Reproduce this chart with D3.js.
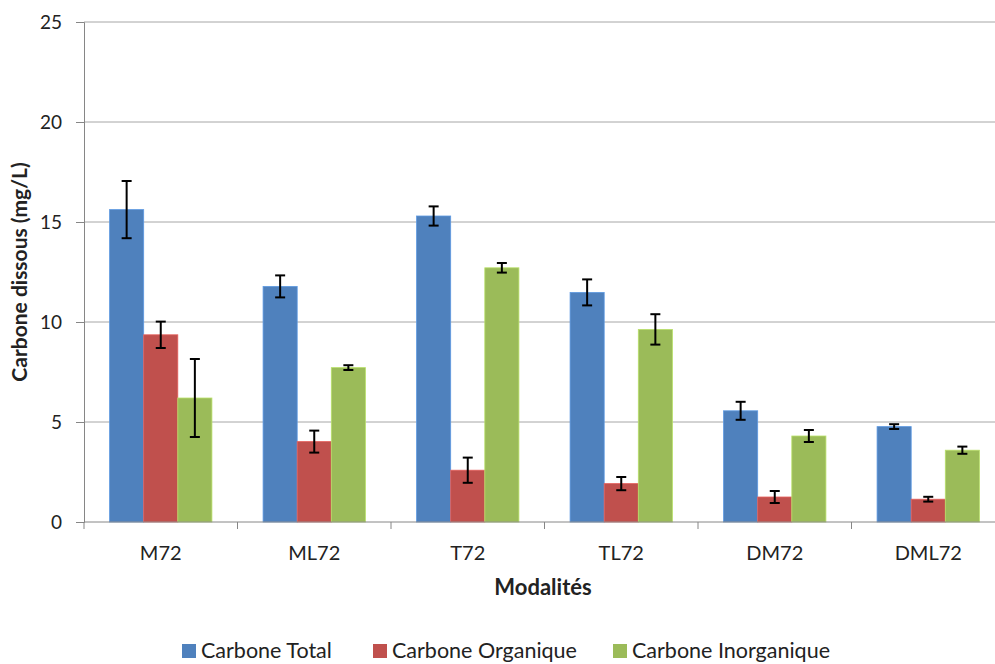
<!DOCTYPE html>
<html>
<head>
<meta charset="utf-8">
<script src="https://cdn.jsdelivr.net/npm/d3@7"></script>
<style>
  body { margin: 0; background: #fff; }
  text { font-family: Lato, "Open Sans", sans-serif; fill: #222; }
</style>
</head>
<body>
<svg id="chart" width="995" height="664"></svg>
<script>
// Categories and series
const categories = ['M72', 'ML72', 'T72', 'TL72', 'DM72', 'DML72'];
const seriesNames = ['Carbone Total', 'Carbone Organique', 'Carbone Inorganique'];
const seriesColors = ['#4F81BD', '#C0504D', '#9BBB59'];

const totalValues = [15.62, 11.78, 15.30, 11.48, 5.56, 4.77];
const totalErrors = [1.43, 0.55, 0.48, 0.65, 0.45, 0.12];
const organicValues = [9.36, 4.02, 2.59, 1.92, 1.25, 1.14];
const organicErrors = [0.66, 0.55, 0.63, 0.33, 0.30, 0.12];
const inorganicValues = [6.20, 7.72, 12.71, 9.63, 4.30, 3.59];
const inorganicErrors = [1.95, 0.12, 0.24, 0.76, 0.30, 0.18];

const yTicks = [0, 5, 10, 15, 20, 25];

const seriesValues = [totalValues, organicValues, inorganicValues];
const seriesErrors = [totalErrors, organicErrors, inorganicErrors];

const svg = d3.select('#chart');
const margin = { left: 84, top: 22, right: -10, bottom: 142 };
const width = 995, height = 664;
const innerW = width - margin.left - margin.right;
const innerH = height - margin.top - margin.bottom;

const g = svg.append('g').attr('transform', `translate(${margin.left},${margin.top})`);

const x0 = d3.scaleBand().domain(categories).range([0, innerW]).paddingInner(0).paddingOuter(0);
const x1 = d3.scaleBand().domain(d3.range(seriesNames.length))
  .range([0, x0.bandwidth()]).paddingOuter(0.75).paddingInner(0);
const y = d3.scaleLinear().domain([0, 25]).range([innerH, 0]);

// Gridlines
g.append('g')
  .selectAll('line')
  .data(yTicks.slice(1))
  .enter().append('line')
  .attr('x1', 0).attr('x2', innerW)
  .attr('y1', d => y(d)).attr('y2', d => y(d))
  .attr('stroke', '#a6a6a6').attr('stroke-width', 1);

// Bars
const rows = [];
categories.forEach((c, i) => {
  seriesNames.forEach((s, j) => {
    rows.push({ cat: c, s: j, value: seriesValues[j][i], err: seriesErrors[j][i] });
  });
});

const bars = g.append('g');
bars.selectAll('rect')
  .data(rows)
  .enter().append('rect')
  .attr('x', d => x0(d.cat) + x1(d.s))
  .attr('y', d => y(d.value))
  .attr('width', x1.bandwidth())
  .attr('height', d => y(0) - y(d.value))
  .attr('fill', d => seriesColors[d.s])
  .attr('stroke', d => d3.color(seriesColors[d.s]).brighter(0.5))
  .attr('stroke-width', 0.8);

// Error bars
const errs = g.append('g').attr('stroke', '#000').attr('stroke-width', 2);
rows.forEach(d => {
  const cx = x0(d.cat) + x1(d.s) + x1.bandwidth() / 2;
  const yTop = y(d.value + d.err), yBot = y(d.value - d.err);
  errs.append('line').attr('x1', cx).attr('x2', cx).attr('y1', yTop).attr('y2', yBot);
  errs.append('line').attr('x1', cx - 5).attr('x2', cx + 5).attr('y1', yTop).attr('y2', yTop);
  errs.append('line').attr('x1', cx - 5).attr('x2', cx + 5).attr('y1', yBot).attr('y2', yBot);
});

// Y axis
const yAxis = g.append('g')
  .call(d3.axisLeft(y).tickValues(yTicks).tickSize(8).tickPadding(14));
yAxis.select('.domain').attr('stroke', '#868686');
yAxis.selectAll('.tick line').attr('stroke', '#868686');
yAxis.selectAll('text').style('font-size', '19px').attr('fill', '#222');

// X axis
const xAxis = g.append('g').attr('transform', `translate(0,${innerH})`);
xAxis.append('line').attr('x1', 0).attr('x2', innerW).attr('stroke', '#868686');
xAxis.selectAll('.xt')
  .data(d3.range(categories.length + 1))
  .enter().append('line')
  .attr('x1', i => i * x0.step()).attr('x2', i => i * x0.step())
  .attr('y1', 0).attr('y2', 7).attr('stroke', '#868686');
xAxis.selectAll('.xl')
  .data(categories)
  .enter().append('text')
  .attr('x', d => x0(d) + x0.bandwidth() / 2)
  .attr('y', 38)
  .attr('text-anchor', 'middle')
  .style('font-size', '20px')
  .text(d => d);

// Axis titles
svg.append('text')
  .attr('transform', `translate(27,${margin.top + innerH / 2}) rotate(-90)`)
  .attr('text-anchor', 'middle')
  .style('font-size', '21px').style('font-weight', 'bold')
  .text('Carbone dissous (mg/L)');

svg.append('text')
  .attr('x', 543).attr('y', 595)
  .attr('text-anchor', 'middle')
  .style('font-size', '22px').style('font-weight', 'bold')
  .text('Modalités');

// Legend
const legendX = [182, 373, 613];
const legend = svg.append('g').attr('transform', 'translate(0,651)');
seriesNames.forEach((s, j) => {
  legend.append('rect')
    .attr('x', legendX[j]).attr('y', -7)
    .attr('width', 14).attr('height', 14)
    .attr('fill', seriesColors[j]);
  legend.append('text')
    .attr('x', legendX[j] + 19).attr('y', 7)
    .style('font-size', '21.5px')
    .text(s);
});
</script>
</body>
</html>
